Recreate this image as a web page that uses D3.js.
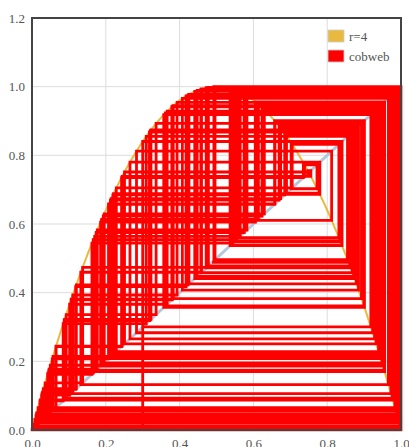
<!DOCTYPE html>
<html>
<head>
<meta charset="utf-8">
<script src="https://cdn.jsdelivr.net/npm/d3@7"></script>
<style>
  html, body { margin: 0; padding: 0; background: #fff; }
  svg { display: block; }
  text { font-family: "Liberation Serif", "DejaVu Serif", serif; }
</style>
</head>
<body>
<svg id="chart" width="409" height="447"></svg>
<script>
// Logistic map parameters and cobweb settings
const rValue = 4;
const startX = 0.3;
const iterations = 200;
const xTicks = [0, 0.2, 0.4, 0.6, 0.8, 1.0];
const yTicks = [0, 0.2, 0.4, 0.6, 0.8, 1.0, 1.2];
const legendNames = ["r=4", "cobweb"];
const legendColors = ["#e8bb40", "#ff0000"];

const W = 409, H = 447;
const margin = { left: 32, right: 8, top: 18, bottom: 17 };

const svg = d3.select("#chart");
const x = d3.scaleLinear().domain([0, 1]).range([margin.left, W - margin.right]);
const y = d3.scaleLinear().domain([0, 1.2]).range([H - margin.bottom, margin.top]);

const logistic = v => rValue * v * (1 - v);

// grid
svg.append("g").selectAll("line").data(xTicks.slice(1, -1)).join("line")
  .attr("x1", d => x(d)).attr("x2", d => x(d))
  .attr("y1", y(0)).attr("y2", y(1.2))
  .attr("stroke", "#ddd").attr("stroke-width", 1);
svg.append("g").selectAll("line").data(yTicks.slice(1, -1)).join("line")
  .attr("x1", x(0)).attr("x2", x(1))
  .attr("y1", d => y(d)).attr("y2", d => y(d))
  .attr("stroke", "#ddd").attr("stroke-width", 1);

// diagonal y = x
svg.append("line")
  .attr("x1", x(0)).attr("y1", y(0)).attr("x2", x(1)).attr("y2", y(1))
  .attr("stroke", "#b4c8dc").attr("stroke-width", 3);

// the map curve
const curveXs = d3.range(0, 1.0001, 0.005);
svg.append("path")
  .datum(curveXs)
  .attr("fill", "none")
  .attr("stroke", legendColors[0])
  .attr("stroke-width", 2)
  .attr("d", d3.line().x(d => x(d)).y(d => y(logistic(d))));

// cobweb orbit
const web = [[startX, 0]];
let cur = startX;
for (let i = 0; i < iterations; i++) {
  const next = logistic(cur);
  web.push([cur, next]);
  web.push([next, next]);
  cur = next;
}
svg.append("path")
  .datum(web)
  .attr("fill", "none")
  .attr("stroke", legendColors[1])
  .attr("stroke-width", 2.8)
  .attr("stroke-linejoin", "miter")
  .attr("d", d3.line().x(d => x(d[0])).y(d => y(d[1])));

// frame
svg.append("rect")
  .attr("x", x(0)).attr("y", y(1.2))
  .attr("width", x(1) - x(0)).attr("height", y(0) - y(1.2))
  .attr("fill", "none").attr("stroke", "#444").attr("stroke-width", 2);

// axes
const xAxis = d3.axisBottom(x).tickValues(xTicks).tickFormat(d3.format(".1f")).tickSize(0).tickPadding(9);
svg.append("g").attr("transform", `translate(0,${y(0)})`).call(xAxis)
  .call(g => g.select(".domain").remove())
  .selectAll("text").attr("fill", "#555").attr("font-size", 13)
  .attr("font-family", "Liberation Serif, serif");

const yAxis = d3.axisLeft(y).tickValues(yTicks).tickFormat(d3.format(".1f")).tickSize(0).tickPadding(7);
svg.append("g").attr("transform", `translate(${x(0)},0)`).call(yAxis)
  .call(g => g.select(".domain").remove())
  .selectAll("text").attr("fill", "#555").attr("font-size", 13)
  .attr("font-family", "Liberation Serif, serif");

// legend
const legend = svg.append("g").attr("transform", "translate(328,30)");
legendNames.forEach((name, i) => {
  const g = legend.append("g").attr("transform", `translate(0,${i * 20})`);
  g.append("rect").attr("width", 16).attr("height", 12)
    .attr("fill", legendColors[i]).attr("stroke", "#ccc").attr("stroke-width", 0.8);
  g.append("text").attr("x", 21).attr("y", 10.5)
    .attr("font-size", 13).attr("fill", "#555").text(name);
});
</script>
</body>
</html>
